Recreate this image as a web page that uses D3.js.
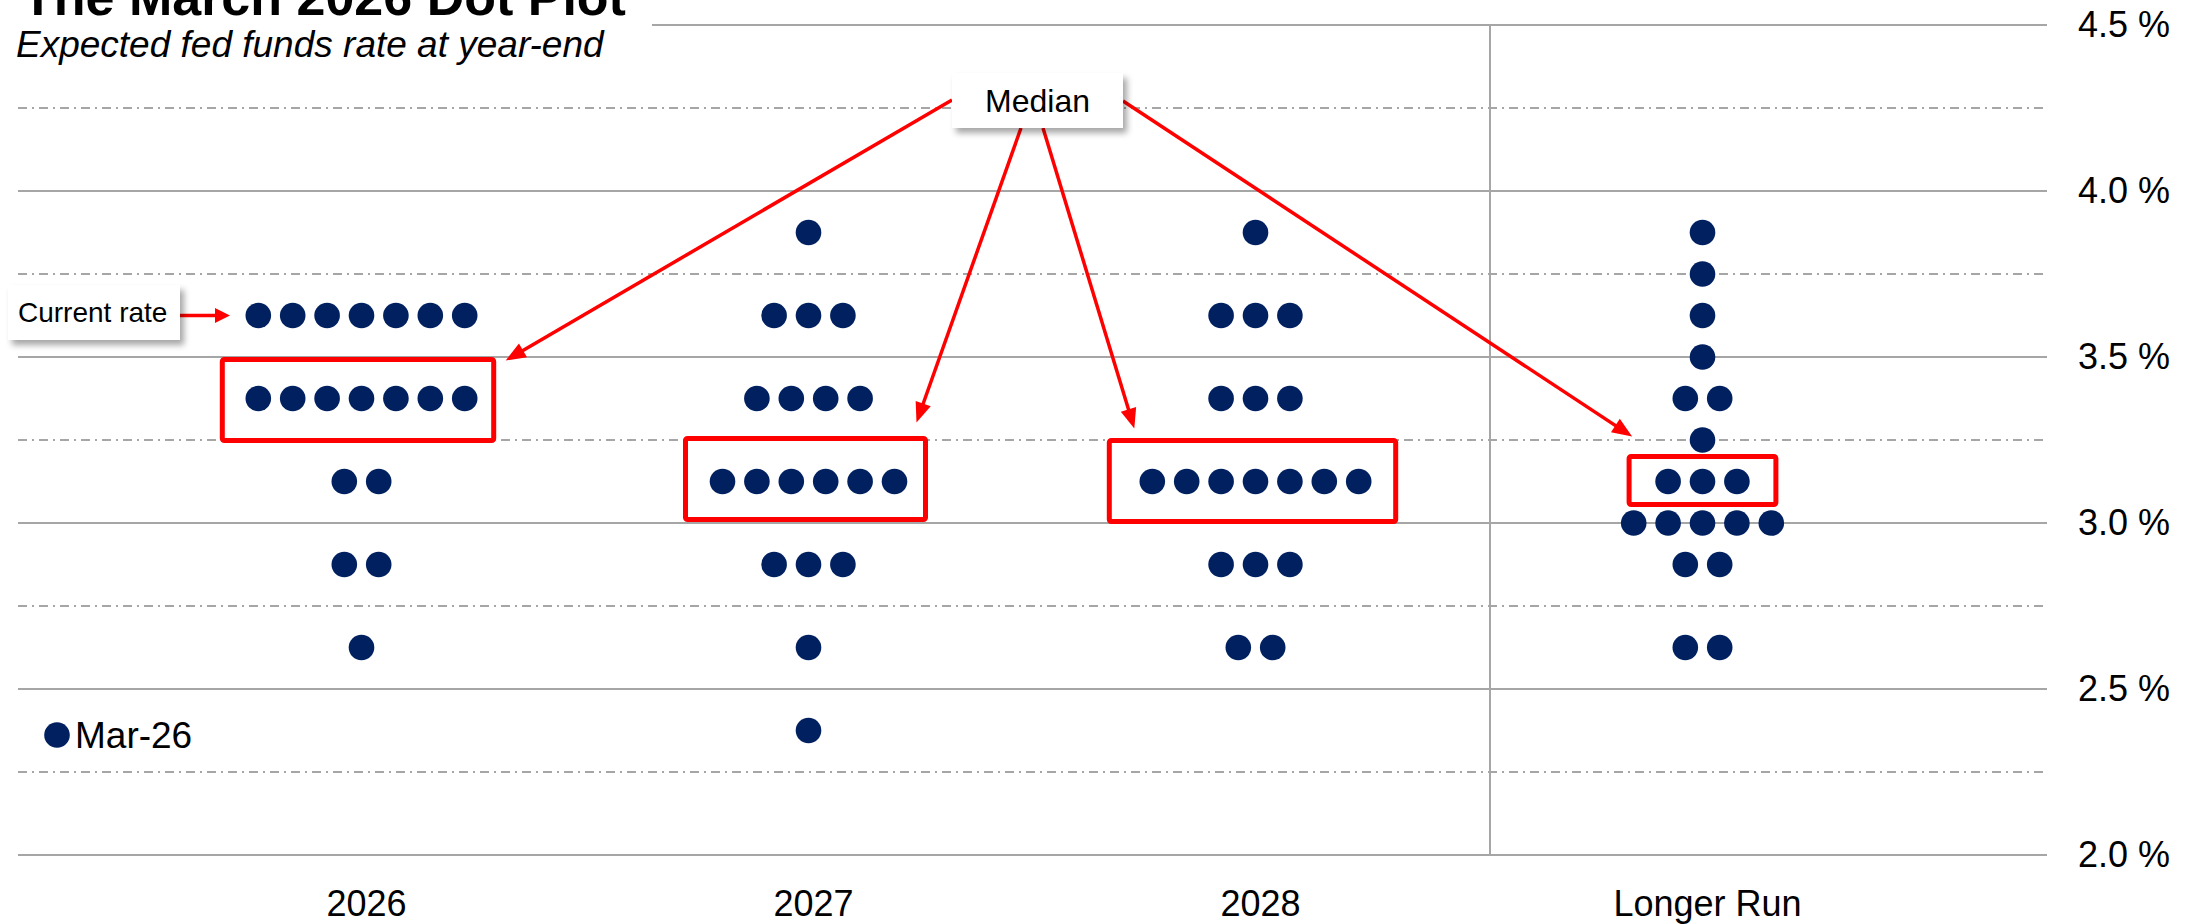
<!DOCTYPE html>
<html>
<head>
<meta charset="utf-8">
<script src="https://cdn.jsdelivr.net/npm/d3@7"></script>
<style>
  body { margin: 0; background: #fff; }
  svg { display: block; font-family: Arial, "Liberation Sans", sans-serif; }
</style>
</head>
<body>
<svg width="2198" height="924"></svg>
<script>
// data
var categories = ["2026", "2027", "2028", "Longer Run"];
var rateLevels = [3.875, 3.75, 3.625, 3.5, 3.375, 3.25, 3.125, 3.0, 2.875, 2.625, 2.375];
var counts2026 = [0, 0, 7, 0, 7, 0, 2, 0, 2, 1, 0];
var counts2027 = [1, 0, 3, 0, 4, 0, 6, 0, 3, 1, 1];
var counts2028 = [1, 0, 3, 0, 3, 0, 7, 0, 3, 2, 0];
var countsLongerRun = [1, 1, 1, 1, 2, 1, 3, 5, 2, 2, 0];
var medians = [3.375, 3.125, 3.125, 3.125];
var currentRate = 3.625;
var majorTicks = [2.0, 2.5, 3.0, 3.5, 4.0, 4.5];
var minorTicks = [2.25, 2.75, 3.25, 3.75, 4.25];
var seriesName = "Mar-26";

var svg = d3.select("svg"),
    width = +svg.attr("width"),
    height = +svg.attr("height");

var navy = "#002060", red = "#ff0000", grid = "#a6a6a6";
var gridLeft = 18, gridRight = 2047;
var dotR = 12.8, dotStep = 34.4;
var font = "Arial, 'Liberation Sans', sans-serif";

var x = d3.scaleBand().domain(categories).range([138, 1926]);
var y = d3.scaleLinear().domain([2, 4.5]).range([855, 25]);
var cx = function (c) { return x(c) + x.bandwidth() / 2; };

// box padding around the median dots [left, right, top, bottom]
var boxPad = [[36, 29, 39, 42], [37, 31, 43, 38], [43, 37, 41, 40], [39, 39, 25, 23]];
// where each median arrow lands, relative to a top corner of its box
var tipAt = [["right", 12, 1], ["right", -9, -16], ["left", 25, -12], ["left", 3, -20]];
var medianLabel = {x: 952, y: 73, w: 171, h: 55};
var arrowStarts = [[952, 100], [1021, 128], [1043, 128], [1123, 101]];

var defs = svg.append("defs");
defs.append("filter")
    .attr("id", "shadow")
    .attr("x", "-20%").attr("y", "-30%")
    .attr("width", "140%").attr("height", "170%")
    .append("feDropShadow")
    .attr("dx", 4).attr("dy", 5)
    .attr("stdDeviation", 3)
    .attr("flood-color", "#000")
    .attr("flood-opacity", 0.35);

// gridlines
svg.append("g")
    .selectAll("line")
    .data(majorTicks)
    .enter().append("line")
    .attr("x1", gridLeft).attr("x2", gridRight)
    .attr("y1", y).attr("y2", y)
    .attr("stroke", grid)
    .attr("stroke-width", 2);

svg.append("g")
    .selectAll("line")
    .data(minorTicks)
    .enter().append("line")
    .attr("x1", gridLeft).attr("x2", gridRight)
    .attr("y1", y).attr("y2", y)
    .attr("stroke", grid)
    .attr("stroke-width", 2)
    .attr("stroke-dasharray", "9,5,2,5");

// separator before the longer run column
svg.append("line")
    .attr("x1", x("Longer Run") + 11).attr("x2", x("Longer Run") + 11)
    .attr("y1", y(4.5)).attr("y2", y(2))
    .attr("stroke", grid)
    .attr("stroke-width", 2);

// title block
svg.append("rect")
    .attr("x", 0).attr("y", 0)
    .attr("width", 652).attr("height", 88)
    .attr("fill", "#fff");

svg.append("text")
    .attr("x", 22).attr("y", 15)
    .attr("font-size", 52)
    .attr("font-weight", "bold")
    .text("The March 2026 Dot Plot");

svg.append("text")
    .attr("x", 16).attr("y", 57)
    .attr("font-size", 37)
    .attr("font-style", "italic")
    .text("Expected fed funds rate at year-end");

// dots
var countsByCat = [counts2026, counts2027, counts2028, countsLongerRun];
var dots = [];
categories.forEach(function (c, ci) {
    countsByCat[ci].forEach(function (n, ri) {
        for (var i = 0; i < n; i++) {
            dots.push({cat: c, rate: rateLevels[ri], offset: i - (n - 1) / 2});
        }
    });
});

svg.append("g")
    .selectAll("circle")
    .data(dots)
    .enter().append("circle")
    .attr("cx", function (d) { return cx(d.cat) + d.offset * dotStep; })
    .attr("cy", function (d) { return y(d.rate); })
    .attr("r", dotR)
    .attr("fill", navy);

// median boxes
var boxes = categories.map(function (c, ci) {
    var n = countsByCat[ci][rateLevels.indexOf(medians[ci])];
    var half = (n - 1) / 2 * dotStep;
    var p = boxPad[ci];
    return {
        x0: cx(c) - half - p[0],
        x1: cx(c) + half + p[1],
        y0: y(medians[ci]) - p[2],
        y1: y(medians[ci]) + p[3]
    };
});

svg.append("g")
    .selectAll("rect")
    .data(boxes)
    .enter().append("rect")
    .attr("x", function (d) { return d.x0; })
    .attr("y", function (d) { return d.y0; })
    .attr("width", function (d) { return d.x1 - d.x0; })
    .attr("height", function (d) { return d.y1 - d.y0; })
    .attr("rx", 2)
    .attr("fill", "none")
    .attr("stroke", red)
    .attr("stroke-width", 5);

// arrows
var arrows = svg.append("g");
function arrow(x1, y1, x2, y2, len, hw) {
    var a = Math.atan2(y2 - y1, x2 - x1),
        ux = Math.cos(a), uy = Math.sin(a);
    arrows.append("line")
        .attr("x1", x1).attr("y1", y1)
        .attr("x2", x2 - ux * (len - 2)).attr("y2", y2 - uy * (len - 2))
        .attr("stroke", red)
        .attr("stroke-width", 3.5);
    var bx = x2 - ux * len, by = y2 - uy * len;
    arrows.append("path")
        .attr("d", "M" + x2 + "," + y2 +
            "L" + (bx - uy * hw) + "," + (by + ux * hw) +
            "L" + (bx + uy * hw) + "," + (by - ux * hw) + "Z")
        .attr("fill", red);
}

boxes.forEach(function (b, i) {
    var t = tipAt[i];
    var tx = (t[0] === "right" ? b.x1 : b.x0) + t[1];
    var ty = b.y0 + t[2];
    arrow(arrowStarts[i][0], arrowStarts[i][1], tx, ty, 20, 8);
});

arrow(180, y(currentRate), 230, y(currentRate), 15, 7.5);

// label boxes
svg.append("rect")
    .attr("x", medianLabel.x).attr("y", medianLabel.y)
    .attr("width", medianLabel.w).attr("height", medianLabel.h)
    .attr("fill", "#fff")
    .attr("filter", "url(#shadow)");

svg.append("text")
    .attr("x", medianLabel.x + medianLabel.w / 2)
    .attr("y", medianLabel.y + 39)
    .attr("text-anchor", "middle")
    .attr("font-size", 32)
    .text("Median");

svg.append("rect")
    .attr("x", 8).attr("y", 285)
    .attr("width", 172).attr("height", 55)
    .attr("fill", "#fff")
    .attr("filter", "url(#shadow)");

svg.append("text")
    .attr("x", 18).attr("y", 322)
    .attr("font-size", 28)
    .text("Current rate");

// legend
svg.append("circle")
    .attr("cx", 57).attr("cy", 735)
    .attr("r", dotR)
    .attr("fill", navy);

svg.append("text")
    .attr("x", 75).attr("y", 748)
    .attr("font-size", 37)
    .text(seriesName);

// axes
svg.append("g")
    .attr("transform", "translate(" + gridRight + ",0)")
    .call(d3.axisRight(y)
        .tickValues(majorTicks)
        .tickSize(0)
        .tickPadding(31)
        .tickFormat(function (d) { return d.toFixed(1) + " %"; }))
    .call(function (g) { g.select(".domain").remove(); })
    .attr("font-family", font)
    .attr("font-size", 36)
    .attr("color", "#000");

svg.append("g")
    .attr("transform", "translate(0," + y(2) + ")")
    .call(d3.axisBottom(x)
        .tickSize(0)
        .tickPadding(35))
    .call(function (g) { g.select(".domain").remove(); })
    .attr("font-family", font)
    .attr("font-size", 36)
    .attr("color", "#000")
    .selectAll("text")
    .attr("dx", 5);
</script>
</body>
</html>
